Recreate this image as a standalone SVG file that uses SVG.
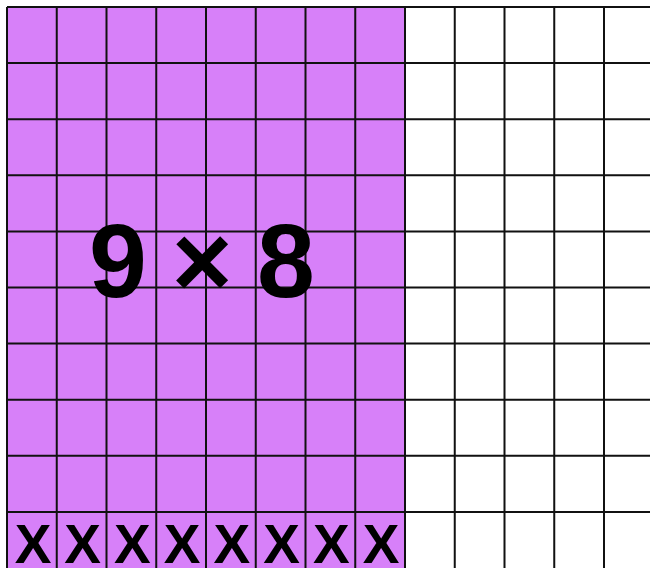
<svg xmlns="http://www.w3.org/2000/svg" width="650" height="568" viewBox="0 0 650 568">
  <style>
    .grid { stroke: #111; stroke-width: 2; fill: none; }
    .x { font-family: "Liberation Sans", Arial, sans-serif; font-weight: bold; font-size: 55px; fill: #000; text-anchor: middle; }
    .big { font-family: "Liberation Sans", Arial, sans-serif; font-weight: bold; font-size: 104px; fill: #000; text-anchor: middle; }
  </style>
  <rect width="650" height="568" fill="#ffffff"/>
  <g id="shaded">
    <rect x="7" y="7" width="398" height="561" fill="#d780f9"/>
  </g>
  <g id="grid" class="grid">
    <path d="M7,7V568 M56.75,7V568 M106.5,7V568 M156.25,7V568 M206,7V568 M255.75,7V568 M305.5,7V568 M355.25,7V568 M405,7V568 M454.75,7V568 M504.5,7V568 M554.25,7V568 M604,7V568"/>
    <path d="M7,7H650 M7,63.1H650 M7,119.2H650 M7,175.3H650 M7,231.4H650 M7,287.5H650 M7,343.6H650 M7,399.7H650 M7,455.8H650 M7,511.9H650"/>
  </g>
  <g id="label">
    <text class="big" x="118" y="297">9</text>
    <text class="big" x="202" y="297">×</text>
    <text class="big" x="286" y="297">8</text>
  </g>
  <g id="marks">
    <text class="x" x="33" y="563">X</text>
    <text class="x" x="82.6" y="563">X</text>
    <text class="x" x="132.4" y="563">X</text>
    <text class="x" x="182.1" y="563">X</text>
    <text class="x" x="231.9" y="563">X</text>
    <text class="x" x="281.6" y="563">X</text>
    <text class="x" x="331.4" y="563">X</text>
    <text class="x" x="381.1" y="563">X</text>
  </g>
</svg>
